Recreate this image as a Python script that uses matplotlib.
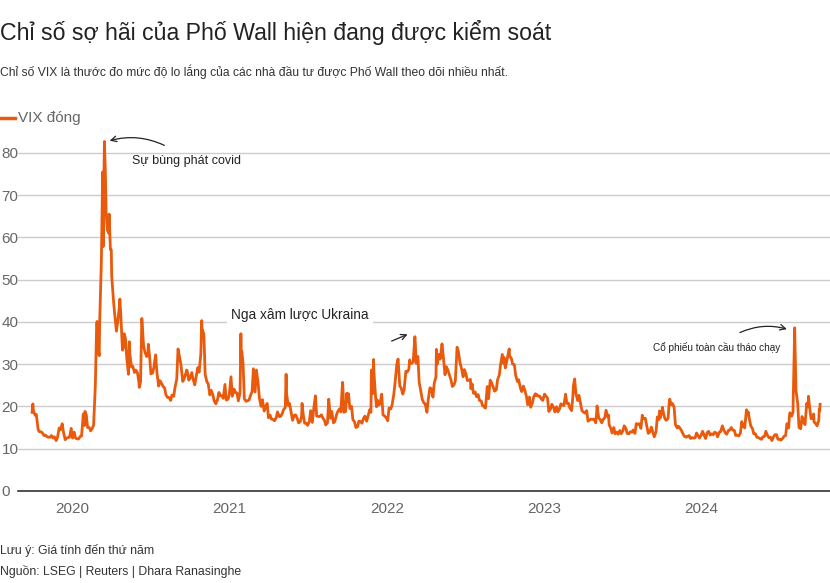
import matplotlib
matplotlib.use("Agg")
import matplotlib.pyplot as plt
import matplotlib.dates as mdates
import pandas as pd

plt.rcParams['font.family'] = ['Liberation Sans', 'DejaVu Sans']

line_color = '#ea5a0c'
grey = '#666666'
dark = '#222222'

# Monday closes (or next trading day)
mon_start = ['2019-09-30', '2020-01-06', '2021-01-04', '2022-01-03', '2023-01-02', '2024-01-01']
mon_2019 = [18.6, 17.9, 14.6, 14.0, 13.1, 12.8, 12.7, 12.5, 11.9, 14.9, 15.9, 12.1, 12.6, 14.8]
mon_2020 = [13.9, 12.3, 12.9, 18.2, 18.0, 15.0, 14.8, 25.0, 33.4, 54.5, 82.7, 61.6, 57.1,
            45.2, 37.8, 43.8, 33.3, 36.0, 27.6, 29.3, 28.0, 27.9, 25.8, 34.4, 31.8, 31.8,
            27.9, 32.2, 24.8, 25.4, 24.3, 22.1, 21.4, 22.4, 26.4, 31.5, 25.9, 27.8, 26.2,
            28.0, 25.1, 29.2, 32.5, 37.1, 25.8, 22.7, 22.7, 20.6, 23.3, 22.5, 25.2, 21.7]
mon_2021 = [27.0, 24.1, 23.2, 23.2, 30.2, 21.2, 21.5, 23.5, 23.4, 25.5, 20.0, 18.9, 20.7,
            17.9, 16.9, 17.3, 17.6, 18.3, 19.7, 20.2, 18.4, 17.9, 17.1, 16.4, 17.9, 16.0,
            16.4, 16.2, 22.5, 17.6, 18.0, 16.7, 16.1, 17.2, 16.1, 18.0, 19.4, 25.7, 18.8,
            23.0, 20.0, 16.3, 15.2, 16.4, 17.2, 16.5, 19.2, 23.0, 21.9, 20.3, 22.9, 17.7]
mon_2022 = [16.6, 19.4, 22.8, 29.9, 24.8, 22.9, 28.3, 28.8, 30.2, 36.5, 31.8, 23.5, 20.8,
            18.6, 24.4, 22.2, 27.0, 32.3, 34.8, 27.5, 28.5, 26.2, 25.1, 34.0, 30.2, 27.0,
            27.5, 26.2, 25.3, 23.4, 22.8, 21.3, 20.0, 24.7, 26.2, 24.6, 23.9, 27.4, 32.3,
            29.1, 32.5, 31.4, 29.9, 25.9, 24.4, 24.8, 22.4, 22.2, 20.8, 23.0, 22.4, 21.7]
mon_2023 = [22.9, 22.0, 19.4, 19.8, 19.9, 19.4, 20.3, 22.9, 20.7, 19.0, 26.5, 21.4, 20.6,
            18.6, 19.0, 16.8, 16.9, 16.1, 17.3, 16.1, 17.3, 17.5, 14.8, 15.0, 13.9, 14.3,
            14.2, 14.8, 13.5, 13.9, 13.6, 15.8, 14.8, 17.1, 15.1, 14.0, 13.8, 14.0, 16.9,
            19.0, 17.0, 17.2, 20.4, 19.8, 14.9, 14.8, 13.4, 12.7, 13.1, 12.6, 12.6, 13.0]
mon_2024 = [13.2, 13.1, 13.8, 13.2, 13.3, 13.7, 13.9, 15.4, 13.7, 14.3, 15.0, 14.3, 13.2,
            13.7, 15.2, 19.2, 16.9, 14.7, 13.5, 12.6, 12.2, 12.9, 13.1, 12.7, 12.8, 13.3,
            12.2, 12.4, 13.1, 14.9, 17.7, 38.6, 20.7, 14.7, 16.2, 20.7, 19.5, 17.1, 15.9, 16.7]

# Thursday closes (or previous trading day)
thu_start = ['2019-10-03', '2020-01-02', '2021-01-07', '2022-01-06', '2023-01-05', '2024-01-04']
thu_2019 = [19.1, 18.1, 14.0, 13.7, 13.2, 12.7, 13.1, 12.8, 12.6, 14.5, 13.9, 12.5, 12.7]
thu_2020 = [12.5, 12.5, 12.3, 13.0, 15.5, 15.0, 14.2, 15.6, 39.2, 39.6, 75.5, 72.0, 61.0,
            50.9, 41.7, 40.1, 42.0, 34.2, 31.4, 32.6, 29.5, 28.6, 25.8, 40.8, 32.9, 32.2,
            27.7, 29.3, 28.0, 26.1, 24.8, 22.7, 22.1, 22.7, 24.5, 33.6, 29.7, 26.5, 28.5,
            26.7, 26.4, 27.0, 28.1, 37.6, 27.6, 25.4, 23.8, 21.3, 21.3, 22.5, 21.9, 21.5, 22.8]
thu_2021 = [22.4, 23.3, 21.3, 30.2, 21.8, 21.3, 22.5, 28.9, 28.6, 21.9, 21.6, 19.8, 17.3,
            17.0, 16.6, 18.7, 17.6, 19.2, 23.1, 20.7, 16.7, 18.0, 16.1, 17.8, 16.0, 15.5,
            19.0, 19.3, 17.7, 17.6, 17.3, 15.6, 21.7, 18.8, 16.4, 18.8, 18.7, 18.6, 23.1,
            19.5, 16.9, 15.0, 16.5, 16.0, 17.7, 17.6, 18.6, 28.0, 21.6, 20.6, 18.0, 17.3]
thu_2022 = [19.6, 20.3, 25.6, 30.5, 24.4, 23.9, 28.1, 30.3, 30.5, 30.2, 25.7, 21.7, 20.6,
            21.6, 24.2, 25.5, 30.0, 31.2, 31.8, 29.4, 27.5, 24.7, 26.1, 33.0, 29.1, 28.7,
            26.1, 26.4, 23.1, 22.3, 21.4, 20.2, 19.6, 21.8, 25.6, 23.6, 26.3, 29.9, 30.2,
            30.5, 31.9, 30.0, 27.4, 26.3, 23.5, 23.9, 20.4, 19.8, 22.3, 22.8, 22.4, 21.4]
thu_2023 = [22.5, 18.8, 20.5, 18.7, 18.7, 20.6, 20.2, 20.7, 19.6, 22.6, 23.0, 22.6, 19.0,
            18.4, 16.5, 17.0, 17.0, 20.1, 16.9, 16.9, 19.1, 15.7, 13.7, 13.5, 13.4, 13.5,
            15.4, 13.6, 14.0, 14.4, 15.9, 15.9, 17.9, 17.2, 13.6, 15.1, 12.8, 17.5, 17.3,
            18.5, 16.7, 21.4, 20.7, 15.7, 15.3, 14.3, 12.9, 12.9, 12.4, 12.5, 13.7, 12.5]
thu_2024 = [14.1, 12.4, 14.1, 13.5, 13.9, 12.8, 14.0, 14.5, 13.4, 14.4, 14.4, 13.1, 13.0,
            16.4, 14.9, 18.0, 15.4, 13.5, 12.7, 12.4, 12.8, 14.1, 12.6, 11.9, 13.3, 12.2,
            12.0, 12.9, 15.9, 18.5, 18.6, 23.8, 15.0, 17.6, 15.7, 19.9, 17.1, 16.3, 15.4]

# extra closes on days with sharp moves
extra_dates = ['2019-10-02', '2020-01-31', '2020-02-28', '2020-03-04', '2020-03-13',
               '2020-03-18', '2020-03-20', '2020-03-25', '2020-03-27', '2020-04-01',
               '2020-04-21', '2020-05-01',
               '2020-05-13', '2020-06-05', '2020-06-26', '2020-09-23', '2020-10-28',
               '2020-10-30', '2020-12-01', '2021-01-27', '2021-01-29', '2021-05-12',
               '2021-06-18', '2021-09-21', '2021-10-01', '2021-11-26', '2021-12-01',
               '2021-12-08', '2021-12-31', '2022-01-27', '2022-02-23', '2022-03-08',
               '2022-04-26', '2022-05-12', '2022-06-16', '2022-07-15', '2022-08-16',
               '2022-09-30', '2022-10-12', '2022-12-13', '2023-03-10', '2023-05-03',
               '2023-05-31', '2023-08-18', '2023-09-26', '2023-10-03', '2023-10-20',
               '2024-04-19', '2024-07-24', '2024-08-02', '2024-08-07', '2024-09-06',
               '2024-09-18', '2024-10-01', '2024-10-02', '2024-10-03']
extra_vix = [20.6, 18.8, 40.1, 32.0, 57.8,
             76.5, 66.0, 64.0, 65.5, 57.1,
             45.4, 37.2,
             35.3, 24.5, 34.7, 28.6, 40.3,
             38.0, 21.2, 37.2, 33.1, 27.6,
             20.7, 24.4, 21.2, 28.6, 31.1,
             19.9, 17.2, 31.2, 31.0, 35.1,
             33.5, 31.8, 33.0, 24.2, 19.7,
             31.6, 33.6, 22.6, 24.8, 18.3,
             17.9, 17.3, 18.9, 19.8, 21.7,
             18.7, 18.0, 23.4, 27.9, 22.4,
             18.2, 19.3, 18.9, 20.5]

years = ['2020', '2021', '2022', '2023', '2024']

mon_vals = [mon_2019, mon_2020, mon_2021, mon_2022, mon_2023, mon_2024]
thu_vals = [thu_2019, thu_2020, thu_2021, thu_2022, thu_2023, thu_2024]
parts = []
for s, v in zip(mon_start, mon_vals):
    parts.append(pd.Series(v, index=pd.date_range(s, periods=len(v), freq='W-MON')))
for s, v in zip(thu_start, thu_vals):
    parts.append(pd.Series(v, index=pd.date_range(s, periods=len(v), freq='W-THU')))
parts.append(pd.Series(extra_vix, index=pd.to_datetime(extra_dates)))
vix = pd.concat(parts)
vix = vix[~vix.index.duplicated(keep='last')].sort_index()

fig = plt.figure(figsize=(8.3, 5.83), dpi=100)
ax = fig.add_axes([0.022, 0.158, 0.978, 0.616])

ax.plot(vix.index, vix.values, color=line_color, lw=2.0, solid_joinstyle='round')

ax.set_ylim(0, 85)
ax.set_yticks(range(0, 81, 10))
ax.set_xlim(pd.Timestamp('2019-08-29'), pd.Timestamp('2024-10-26'))
ax.set_xticks([pd.Timestamp(y + '-01-01') for y in years])
ax.xaxis.set_major_formatter(mdates.DateFormatter('%Y'))

ax.yaxis.grid(True, color='#cccccc', lw=1)
ax.set_axisbelow(True)
for s in ['top', 'right', 'left']:
    ax.spines[s].set_visible(False)
ax.spines['bottom'].set_color('#333333')
ax.spines['bottom'].set_linewidth(1.2)
ax.tick_params(axis='x', length=0, pad=8, labelsize=11, labelcolor=grey)
ax.tick_params(axis='y', length=0, pad=12, labelsize=11, labelcolor=grey)
for t in ax.get_yticklabels():
    t.set_ha('left')

# annotations
peak_day = vix.idxmax()
ax.annotate('', xy=(peak_day + pd.Timedelta(days=6), vix.max()),
            xytext=(pd.Timestamp('2020-08-08'), 81.5),
            arrowprops=dict(arrowstyle='->', color=dark, lw=0.9,
                            connectionstyle='arc3,rad=0.2'))
ax.text(pd.Timestamp('2020-05-20'), 78.0, 'Sự bùng phát covid',
        fontsize=9, color=dark, va='center')

ax.text(pd.Timestamp('2021-01-05'), 41.7, 'Nga xâm lược Ukraina',
        fontsize=9.8, color=dark, va='center',
        bbox=dict(facecolor='white', edgecolor='none', pad=3))
ax.annotate('', xy=(pd.Timestamp('2022-02-24'), 37.3),
            xytext=(pd.Timestamp('2022-01-06'), 35.2),
            arrowprops=dict(arrowstyle='->', color=dark, lw=0.9))

aug_day = vix['2024'].idxmax()
ax.annotate('', xy=(aug_day - pd.Timedelta(days=12), vix['2024'].max() - 0.5),
            xytext=(pd.Timestamp('2024-03-25'), 37.2),
            arrowprops=dict(arrowstyle='->', color=dark, lw=0.9,
                            connectionstyle='arc3,rad=-0.2'))
ax.text(pd.Timestamp('2023-09-10'), 33.9, 'Cổ phiếu toàn cầu tháo chạy',
        fontsize=7.2, color=dark, va='center')

# header and footer
fig.text(0.0, 1 - 40 / 583, 'Chỉ số sợ hãi của Phố Wall hiện đang được kiểm soát',
         fontsize=16.7, color=dark, va='baseline')
fig.text(0.0, 1 - 76 / 583,
         'Chỉ số VIX là thước đo mức độ lo lắng của các nhà đầu tư được Phố Wall theo dõi nhiều nhất.',
         fontsize=8.75, color='#333333', va='baseline')
fig.add_artist(plt.Line2D([0.001, 0.018], [1 - 118 / 583, 1 - 118 / 583],
                          color=line_color, lw=2.5))
fig.text(0.022, 1 - 122 / 583, 'VIX đóng', fontsize=11, color=grey, va='baseline')
fig.text(0.0, 1 - 554 / 583, 'Lưu ý: Giá tính đến thứ năm', fontsize=8.8,
         color='#333333', va='baseline')
fig.text(0.0, 1 - 575 / 583, 'Nguồn: LSEG | Reuters | Dhara Ranasinghe', fontsize=8.8,
         color='#333333', va='baseline')

fig.savefig('out.png', dpi=100, facecolor='white')
